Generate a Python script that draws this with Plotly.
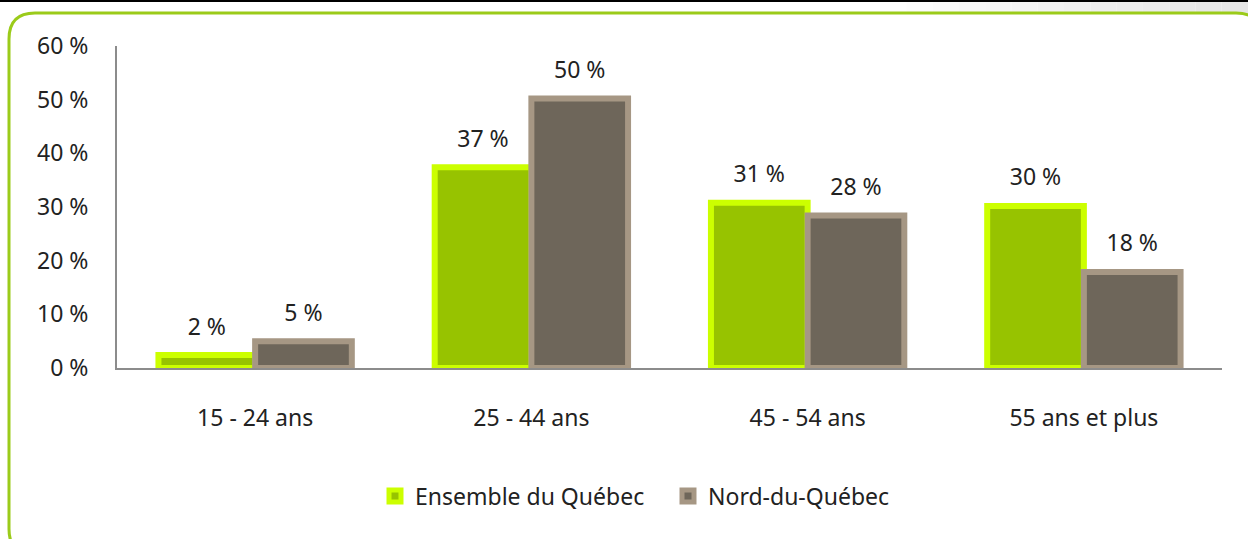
import plotly.graph_objects as go

categories = ["15 - 24 ans", "25 - 44 ans", "45 - 54 ans", "55 ans et plus"]
ensemble_quebec = [2.4, 37.4, 30.8, 30.2]
nord_du_quebec = [5.0, 50.2, 28.4, 17.9]
series_names = ["Ensemble du Québec", "Nord-du-Québec"]
y_ticks = [0, 10, 20, 30, 40, 50, 60]
y_tick_labels = ["0 %", "10 %", "20 %", "30 %", "40 %", "50 %", "60 %"]

FONT = "Noto Sans"
FS = 23
W, H = 1248, 539
L, R, T, B = 117, 26, 46, 171
PW, PH = W - L - R, H - T - B


def px(x):
    return (x - L) / PW


def py(y):
    return (H - B - y) / PH


fig = go.Figure()
styles = [("#97C300", "#CCFF00"), ("#6E665A", "#A69784")]
for name, vals, (fill, edge), grp in zip(series_names, [ensemble_quebec, nord_du_quebec],
                                          styles, ["a", "b"]):
    fig.add_trace(go.Bar(
        x=categories, y=vals, name=name, offsetgroup=grp,
        marker=dict(color=fill, line=dict(color=edge, width=6)),
    ))
for name, vals, grp in zip(series_names, [ensemble_quebec, nord_du_quebec], ["a", "b"]):
    fig.add_trace(go.Scatter(
        x=categories, y=vals, offsetgroup=grp, mode="markers+text",
        text=[f"{v:.0f} %" for v in vals], textposition="top center",
        marker=dict(size=22, opacity=0), showlegend=False, hoverinfo="skip",
        textfont=dict(family=FONT, size=FS, color="#222222"), cliponaxis=False,
    ))

# decorative frame
shapes = []
n = 14
x0g, x1g = 880, W
for i in range(n):
    a = x0g + (x1g - x0g) * i / n
    b = x0g + (x1g - x0g) * (i + 1) / n
    g = int(255 - 25 * (i + 1) / n)
    shapes.append(dict(type="rect", xref="paper", yref="paper",
                       x0=px(a), x1=px(b), y0=py(13), y1=py(0),
                       fillcolor=f"rgb({g},{g},{g})", line=dict(width=0), layer="below"))
shapes.append(dict(type="line", xref="paper", yref="paper",
                   x0=px(0), x1=px(W), y0=py(1), y1=py(1),
                   line=dict(color="#000000", width=2)))
lx, tx, rx, bx, r = 9, 13, 1262, 555, 26
path = (f"M {px(lx)},{py(bx - r)} "
        f"L {px(lx)},{py(tx + r)} "
        f"Q {px(lx)},{py(tx)} {px(lx + r)},{py(tx)} "
        f"L {px(rx - r)},{py(tx)} "
        f"Q {px(rx)},{py(tx)} {px(rx)},{py(tx + r)} "
        f"L {px(rx)},{py(bx - r)} "
        f"Q {px(rx)},{py(bx)} {px(rx - r)},{py(bx)} "
        f"L {px(lx + r)},{py(bx)} "
        f"Q {px(lx)},{py(bx)} {px(lx)},{py(bx - r)} Z")
shapes.append(dict(type="path", xref="paper", yref="paper", path=path,
                   line=dict(color="#9BCB1A", width=3), fillcolor="rgba(0,0,0,0)"))

fig.update_layout(
    width=W, height=H,
    margin=dict(l=L, r=R, t=T, b=B),
    paper_bgcolor="white", plot_bgcolor="white",
    barmode="group", bargap=0.3, bargroupgap=0,
    scattermode="group", scattergap=0.3,
    font=dict(family=FONT, size=FS, color="#222222"),
    showlegend=True,
    legend=dict(orientation="h", x=px(375), y=py(496), xanchor="left", yanchor="middle",
                font=dict(family=FONT, size=FS, color="#222222"),
                itemwidth=30, entrywidth=248, entrywidthmode="pixels",
                traceorder="normal"),
    xaxis=dict(showline=True, linecolor="#8C8C8C", linewidth=2, showgrid=False,
               ticks="", ticklabelstandoff=28, tickfont=dict(family=FONT, size=FS)),
    yaxis=dict(range=[0, 60], tickvals=y_ticks, ticktext=y_tick_labels,
               showline=True, linecolor="#8C8C8C", linewidth=2, showgrid=False,
               zeroline=False, ticks="", ticklabelstandoff=22,
               tickfont=dict(family=FONT, size=FS)),
    shapes=shapes,
)

fig.write_html("out.html", config={"displayModeBar": False},
               post_script="document.body.style.margin='0';document.body.style.overflow='hidden';")
